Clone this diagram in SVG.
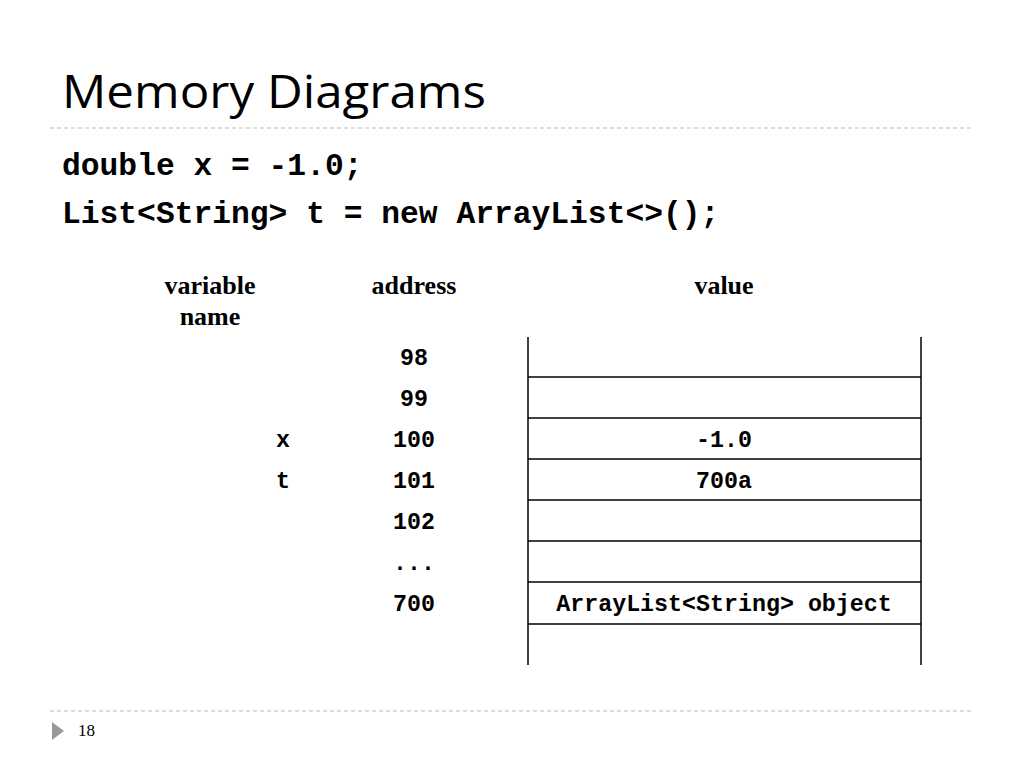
<svg xmlns="http://www.w3.org/2000/svg" width="1024" height="768" viewBox="0 0 1024 768">
<style>
.code{font-family:"Liberation Mono",monospace;font-weight:bold;font-size:31.3px;fill:#000}
.hd{font-family:"Liberation Serif",serif;font-weight:bold;font-size:26px;text-anchor:middle;fill:#000}
.cell{font-family:"Liberation Mono",monospace;font-weight:bold;font-size:23.3px;text-anchor:middle;fill:#000}
.ln{stroke:#000;stroke-width:1.5}
.dash{stroke:#bbb;stroke-width:1;stroke-dasharray:4 3}
</style>
<rect width="1024" height="768" fill="#fff"/>
<text x="62" y="108" font-family="Open Sans, sans-serif" font-size="46" textLength="424" lengthAdjust="spacingAndGlyphs" fill="#000">Memory Diagrams</text>
<line class="dash" x1="50" y1="128" x2="972" y2="128"/>
<line class="dash" x1="50" y1="711" x2="972" y2="711"/>
<text class="code" x="62" y="175">double x = -1.0;</text>
<text class="code" x="62" y="223">List&lt;String&gt; t = new ArrayList&lt;&gt;();</text>
<g id="headers">
<text class="hd" x="210" y="294">variable</text>
<text class="hd" x="210" y="325">name</text>
<text class="hd" x="414" y="294">address</text>
<text class="hd" x="724" y="294">value</text>
</g>
<g id="table">
<line class="ln" x1="528" y1="337" x2="528" y2="665"/>
<line class="ln" x1="921" y1="337" x2="921" y2="665"/>
<line class="ln" x1="528" y1="377" x2="921" y2="377"/>
<line class="ln" x1="528" y1="418" x2="921" y2="418"/>
<line class="ln" x1="528" y1="459" x2="921" y2="459"/>
<line class="ln" x1="528" y1="500" x2="921" y2="500"/>
<line class="ln" x1="528" y1="541" x2="921" y2="541"/>
<line class="ln" x1="528" y1="582" x2="921" y2="582"/>
<line class="ln" x1="528" y1="624" x2="921" y2="624"/>
<text class="cell" x="414" y="365">98</text>
<text class="cell" x="414" y="406">99</text>
<text class="cell" x="414" y="447">100</text>
<text class="cell" x="414" y="488">101</text>
<text class="cell" x="414" y="529">102</text>
<text class="cell" x="414" y="570">...</text>
<text class="cell" x="414" y="611">700</text>
<text class="cell" x="283" y="447">x</text>
<text class="cell" x="283" y="488">t</text>
<text class="cell" x="724" y="447">-1.0</text>
<text class="cell" x="724" y="488">700a</text>
<text class="cell" x="724" y="611">ArrayList&lt;String&gt; object</text>
</g>
<polygon points="52,722 64,731 52,740" fill="#999"/>
<text x="78" y="736" font-family="Liberation Serif, serif" font-size="17" fill="#000">18</text>
</svg>
